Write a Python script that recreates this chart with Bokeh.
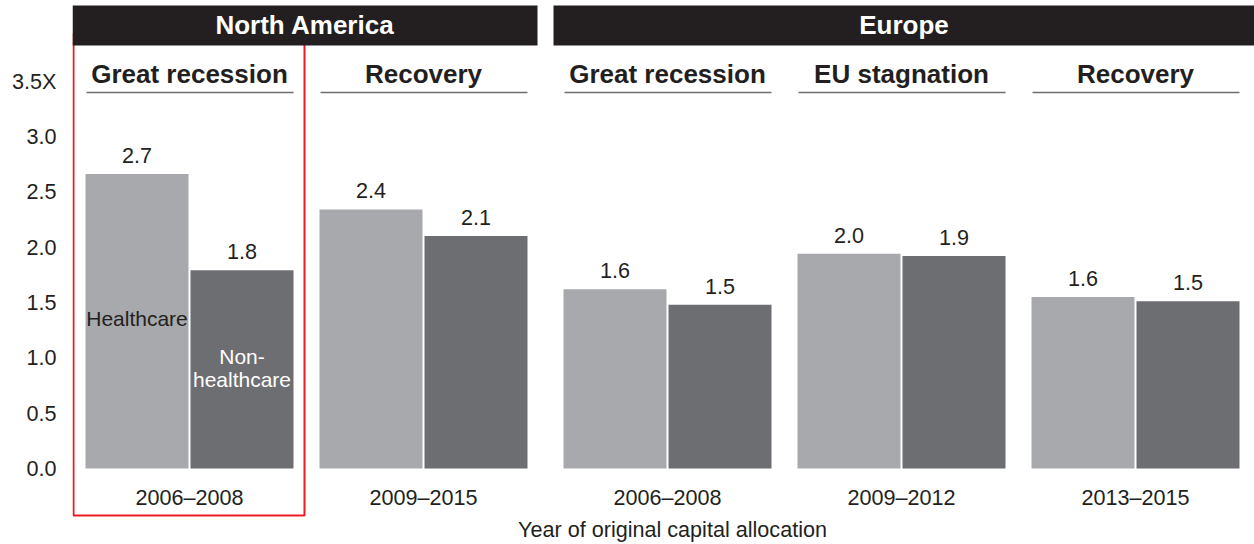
from bokeh.plotting import figure
from bokeh.models import Range1d, FixedTicker, CustomJSTickFormatter, ColumnDataSource
from bokeh.core.properties import value
from bokeh.embed import file_html
from bokeh.resources import INLINE

# ---------------- data ----------------
regions = ["North America", "Europe"]
phases = ["Great recession", "Recovery", "Great recession", "EU stagnation", "Recovery"]
phase_region = [0, 0, 1, 1, 1]
periods = ["2006–2008", "2009–2015", "2006–2008", "2009–2012", "2013–2015"]
healthcare = [2.66, 2.34, 1.62, 1.94, 1.55]
non_healthcare = [1.79, 2.10, 1.48, 1.92, 1.51]
healthcare_labels = ["2.7", "2.4", "1.6", "2.0", "1.6"]
non_healthcare_labels = ["1.8", "2.1", "1.5", "1.9", "1.5"]
y_ticks = [0.0, 0.5, 1.0, 1.5, 2.0, 2.5, 3.0, 3.5]
axis_title = "Year of original capital allocation"

# ---------------- style / layout ----------------
FONT = "Liberation Sans"
TXT = "#231F20"
LIGHT = "#A7A9AC"
DARK = "#6D6E71"
RED = "#ED1C24"
W, H = 1254, 544
LEFT = 72
FW = W - LEFT          # frame width in px
ZERO_PX = 468          # px from frame top to value 0
PPU = 110.7            # px per unit
BAR_W = 103
PAIR_GAP = 2
GROUP_W = 2 * BAR_W + PAIR_GAP
FIRST = 13
GAP_IN = 26
GAP_REGION = 36
REG = "21.6px"
BOLD = "26px"

lefts = []
x = FIRST
for i in range(len(phases)):
    if i > 0:
        x += GROUP_W + (GAP_REGION if phase_region[i] != phase_region[i - 1] else GAP_IN)
    lefts.append(x)
centers = [l + GROUP_W / 2 for l in lefts]
hc_x = [l + BAR_W / 2 for l in lefts]
nh_x = [l + BAR_W + PAIR_GAP + BAR_W / 2 for l in lefts]

p = figure(width=W, height=H, output_backend="svg", toolbar_location=None,
           x_axis_type=None,
           x_range=Range1d(0, FW),
           y_range=Range1d(-(H - ZERO_PX) / PPU, ZERO_PX / PPU),
           min_border_left=LEFT, min_border_right=0, min_border_top=0, min_border_bottom=0)
p.extra_y_ranges = {"px": Range1d(start=H, end=0)}
p.outline_line_color = None
p.xgrid.visible = False
p.ygrid.visible = False
p.background_fill_color = "white"
p.border_fill_color = "white"

ax = p.yaxis[0]
ax.ticker = FixedTicker(ticks=y_ticks)
ax.formatter = CustomJSTickFormatter(code="return tick == 3.5 ? '3.5X' : tick.toFixed(1);")
ax.axis_line_color = None
ax.major_tick_line_color = None
ax.minor_tick_line_color = None
ax.major_label_standoff = 10
ax.major_label_text_font = FONT
ax.major_label_text_font_size = REG
ax.major_label_text_color = TXT

# red highlight box (behind header)
p.quad(left=[1], right=[lefts[0] + GROUP_W + 11], top=[33], bottom=[515],
       fill_color=None, line_color=RED, line_width=2, y_range_name="px")

# region headers
reg_left, reg_right = [], []
for r in range(len(regions)):
    idx = [i for i, g in enumerate(phase_region) if g == r]
    l = 0 if r == 0 else lefts[idx[0]] - 10
    rr = lefts[idx[-1]] + GROUP_W + 10 if r < len(regions) - 1 else FW
    reg_left.append(l)
    reg_right.append(rr)
p.quad(left=reg_left, right=reg_right, top=[5] * len(regions), bottom=[45] * len(regions),
       fill_color=TXT, line_color=None, y_range_name="px")
p.text(x=[(a + b) / 2 for a, b in zip(reg_left, reg_right)], y=[24] * len(regions), text=regions,
       text_font=value(FONT), text_font_style="bold", text_font_size=BOLD,
       text_color="white", text_align="center", text_baseline="middle", y_range_name="px")

# phase subheaders + underline
p.text(x=centers, y=[73] * len(phases), text=phases,
       text_font=value(FONT), text_font_style="bold", text_font_size=BOLD,
       text_color=TXT, text_align="center", text_baseline="middle", y_range_name="px")
p.segment(x0=[l + 1 for l in lefts], x1=[l + GROUP_W for l in lefts],
          y0=[92] * len(phases), y1=[92] * len(phases),
          line_color=DARK, line_width=1.5, y_range_name="px")

# bars
src = ColumnDataSource(dict(hx=hc_x, nx=nh_x, hc=healthcare, nh=non_healthcare,
                            hl=healthcare_labels, nl=non_healthcare_labels,
                            hy=[v + 18.5 / PPU for v in healthcare],
                            ny=[v + 18.5 / PPU for v in non_healthcare]))
p.vbar(x="hx", top="hc", bottom=0, width=BAR_W, source=src, fill_color=LIGHT, line_color=None)
p.vbar(x="nx", top="nh", bottom=0, width=BAR_W, source=src, fill_color=DARK, line_color=None)
for xs, ys, ts in (("hx", "hy", "hl"), ("nx", "ny", "nl")):
    p.text(x=xs, y=ys, text=ts, source=src, text_font=value(FONT), text_font_size=REG,
           text_color=TXT, text_align="center", text_baseline="middle")

# in-bar legend labels
p.text(x=[hc_x[0]], y=[318], text=["Healthcare"], text_font=value(FONT), text_font_size="21px",
       text_color=TXT, text_align="center", text_baseline="middle", y_range_name="px")
p.text(x=[nh_x[0], nh_x[0]], y=[356, 379], text=["Non-", "healthcare"], text_font=value(FONT),
       text_font_size="21px", text_color="white", text_align="center", text_baseline="middle",
       y_range_name="px")

# period labels
p.text(x=centers, y=[497] * len(periods), text=periods, text_font=value(FONT), text_font_size=REG,
       text_color=TXT, text_align="center", text_baseline="middle", y_range_name="px")

# axis title
p.text(x=[(centers[0] + centers[-1]) / 2 + 10], y=[529], text=[axis_title], text_font=value(FONT),
       text_font_size=REG, text_color=TXT, text_align="center", text_baseline="middle",
       y_range_name="px")

open("out.html", "w").write(file_html(p, INLINE))
